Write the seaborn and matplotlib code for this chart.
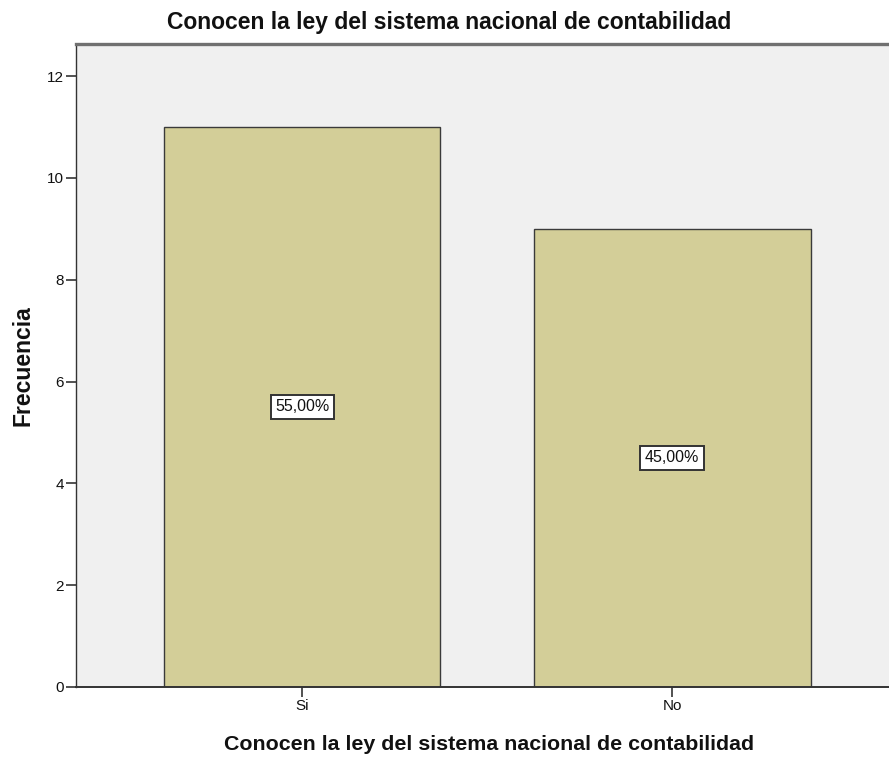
import matplotlib
matplotlib.use("Agg")
import matplotlib.pyplot as plt
import seaborn as sns
import pandas as pd

categories = ["Si", "No"]
frequencies = [11, 9]
percent_labels = ["55,00%", "45,00%"]

title_text = "Conocen la ley del sistema nacional de contabilidad"
x_label = "Conocen la ley del sistema nacional de contabilidad"
y_label = "Frecuencia"

sns.set_style("white")
plt.rcParams["font.family"] = ["Liberation Sans", "DejaVu Sans"]

df = pd.DataFrame({"categoria": categories, "frecuencia": frequencies})

W, H = 889, 758
AX_L, AX_R, AX_T, AX_B = 76, 889, 44, 687
fig = plt.figure(figsize=(W / 100, H / 100), dpi=100)
ax = fig.add_axes([AX_L / W, 1 - AX_B / H, (AX_R - AX_L) / W, (AX_B - AX_T) / H])
ax.set_facecolor("#F0F0F0")

sns.barplot(data=df, x="categoria", y="frecuencia", order=categories,
            color="#D3CE98", saturation=1, width=0.748,
            edgecolor="#3a3a3a", linewidth=1.0, ax=ax)

# percentage box centred in each bar
for i, (val, lab) in enumerate(zip(frequencies, percent_labels)):
    ax.text(i, val / 2, lab, ha="center", va="center", fontsize=11.5,
            color="#111111",
            bbox=dict(boxstyle="square,pad=0.28", facecolor="white",
                      edgecolor="#333333", linewidth=1.4))

ax.set_xlim(-0.611, 1.586)
ax.set_ylim(0, 12.63)
ax.set_yticks([0, 2, 4, 6, 8, 10, 12])

for side in ["left", "bottom", "top"]:
    ax.spines[side].set_visible(True)
    ax.spines[side].set_color("#333333")
ax.spines["top"].set_linewidth(2.4)
ax.spines["top"].set_color("#707070")
ax.spines["left"].set_linewidth(1.0)
ax.spines["bottom"].set_linewidth(1.4)
ax.spines["right"].set_visible(False)

ax.tick_params(axis="both", which="major", direction="out", length=7,
               width=1.2, color="#333333", labelsize=11, labelcolor="#111111",
               left=True, bottom=True, pad=1.5)

ax.set_xlabel(x_label, fontsize=15.4, fontweight="bold", color="#111111")
ax.set_ylabel(y_label, fontsize=16.5, fontweight="bold", color="#111111")
axes_w_px = AX_R - AX_L
axes_h_px = AX_B - AX_T
ax.xaxis.set_label_coords((489 - AX_L) / axes_w_px, (AX_B - 745) / axes_h_px)
ax.xaxis.label.set_va("center")
ax.yaxis.set_label_coords((23 - AX_L) / axes_w_px, 0.5)
ax.yaxis.label.set_va("center")

fig.text(449.5 / W, 1 - 22 / H, title_text, ha="center", va="center",
         fontsize=16.5, fontweight="bold", color="#111111")

fig.savefig("out.png", dpi=100, facecolor="white")
